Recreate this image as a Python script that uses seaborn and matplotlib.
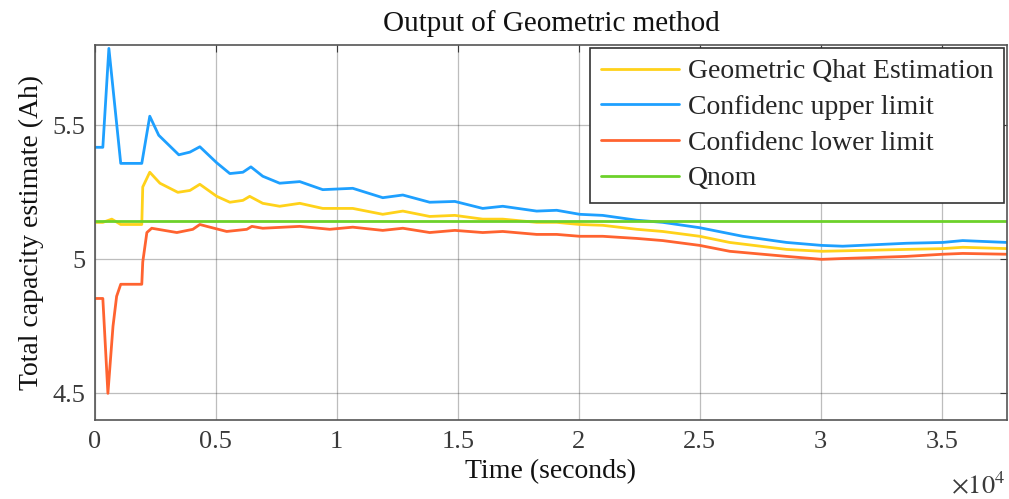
import numpy as np
import pandas as pd
import matplotlib
matplotlib.use("Agg")
import matplotlib.pyplot as plt
import seaborn as sns

# ---- data ----
upper_t = [0, 330, 580, 1070, 1940, 2270, 2640, 3470, 3930, 4340, 5040, 5580, 6120, 6450,
           6940, 7640, 8470, 9420, 10660, 11900, 12730, 13840, 14880, 16030, 16860, 18260,
           19090, 20040, 20990, 22400, 23470, 25000, 26780, 28590, 30040, 30910, 33550,
           35040, 35870, 37700]
upper_v = [5.418, 5.418, 5.787, 5.358, 5.358, 5.534, 5.463, 5.39, 5.40, 5.42, 5.36, 5.32,
           5.325, 5.345, 5.31, 5.284, 5.29, 5.26, 5.265, 5.23, 5.24, 5.213, 5.216, 5.19,
           5.198, 5.18, 5.183, 5.168, 5.164, 5.146, 5.138, 5.118, 5.086, 5.063, 5.052,
           5.049, 5.06, 5.063, 5.07, 5.063]

est_t = [0, 330, 700, 1070, 1940, 1980, 2270, 2690, 3430, 3930, 4340, 5040, 5580, 6120,
         6400, 6940, 7640, 8470, 9420, 10660, 11900, 12730, 13840, 14880, 16030, 16860,
         18260, 19090, 20040, 20990, 22400, 23470, 25000, 26240, 28590, 30040, 33550,
         35040, 35870, 37700]
est_v = [5.138, 5.138, 5.15, 5.13, 5.13, 5.27, 5.325, 5.284, 5.25, 5.257, 5.28, 5.235,
         5.213, 5.22, 5.235, 5.209, 5.198, 5.209, 5.19, 5.19, 5.168, 5.18, 5.16, 5.164,
         5.15, 5.15, 5.138, 5.138, 5.13, 5.127, 5.112, 5.104, 5.086, 5.063, 5.037, 5.03,
         5.037, 5.04, 5.045, 5.04]

lower_t = [0, 330, 540, 750, 900, 1070, 1940, 1980, 2150, 2350, 3390, 4050, 4340, 4630,
           5450, 6280, 6490, 6940, 8470, 9710, 10660, 11900, 12730, 13840, 14880, 16030,
           16860, 18260, 19090, 20040, 20990, 22400, 23470, 25000, 26240, 28590, 30040,
           30910, 33550, 35040, 35870, 37700]
lower_v = [4.854, 4.854, 4.50, 4.75, 4.862, 4.907, 4.907, 4.99, 5.10, 5.116, 5.10, 5.112,
           5.13, 5.123, 5.104, 5.112, 5.123, 5.116, 5.123, 5.112, 5.12, 5.108, 5.116, 5.10,
           5.108, 5.10, 5.104, 5.093, 5.093, 5.086, 5.086, 5.078, 5.07, 5.052, 5.03, 5.011,
           5.0, 5.003, 5.011, 5.019, 5.022, 5.019]

qnom_t = [0, 37700]
qnom_v = [5.142, 5.142]

series_names = ["Geometric Qhat Estimation", "Confidenc upper limit",
                "Confidenc lower limit", "Qnom"]
series_colors = ["#FFD21A", "#1EA0FF", "#FF6330", "#6CD12A"]

x_ticks = [0, 5000, 10000, 15000, 20000, 25000, 30000, 35000]
x_tick_labels = ["0", "0.5", "1", "1.5", "2", "2.5", "3", "3.5"]
y_ticks = [4.5, 5.0, 5.5]
y_tick_labels = ["4.5", "5", "5.5"]

# ---- build long-form table ----
frames = []
for name, t, v in zip(series_names,
                      [est_t, upper_t, lower_t, qnom_t],
                      [est_v, upper_v, lower_v, qnom_v]):
    frames.append(pd.DataFrame({"t": t, "v": v, "series": name}))
df = pd.concat(frames, ignore_index=True)

sns.set_style("white")
plt.rcParams["font.family"] = ["Liberation Serif", "DejaVu Serif"]
plt.rcParams["mathtext.fontset"] = "stix"

fig = plt.figure(figsize=(10.09, 4.99), dpi=100)
ax = fig.add_axes([0.094, 0.158, 0.904, 0.752])

sns.lineplot(data=df, x="t", y="v", hue="series", hue_order=series_names,
             palette=series_colors, linewidth=2.0, ax=ax, sort=False,
             estimator=None)

ax.set_xlim(0, 37700)
ax.set_ylim(4.4, 5.8)
ax.set_xticks(x_ticks)
ax.set_xticklabels(x_tick_labels)
ax.set_yticks(y_ticks)
ax.set_yticklabels(y_tick_labels)
ax.tick_params(axis="both", direction="in", labelsize=19, colors="#3a3a3a",
               length=5, top=True, right=True)
ax.tick_params(axis="x", pad=8)
ax.tick_params(axis="y", pad=7)
ax.grid(True, color="#262626", alpha=0.3, linewidth=0.9)
for s in ax.spines.values():
    s.set_color("#555555")
    s.set_linewidth(1.2)
    s.set_visible(True)

ax.set_xlabel("Time (seconds)", fontsize=20, color="#111111", labelpad=4)
ax.set_ylabel("Total capacity estimate (Ah)", fontsize=20, color="#111111", labelpad=6)
ax.set_title("Output of Geometric method", fontsize=21, color="#111111", pad=10)
fig.text(0.943, 0.012, r"$\times10^{4}$", fontsize=19, color="#3a3a3a")

leg = ax.legend(loc="upper right", fontsize=20, frameon=True, fancybox=False,
                edgecolor="#333333", handlelength=2.8, borderaxespad=0.1,
                labelspacing=0.37, borderpad=0.4, handletextpad=0.3)
leg.get_frame().set_linewidth(1.2)
leg.get_frame().set_alpha(1)

fig.savefig("out.png", dpi=100)
